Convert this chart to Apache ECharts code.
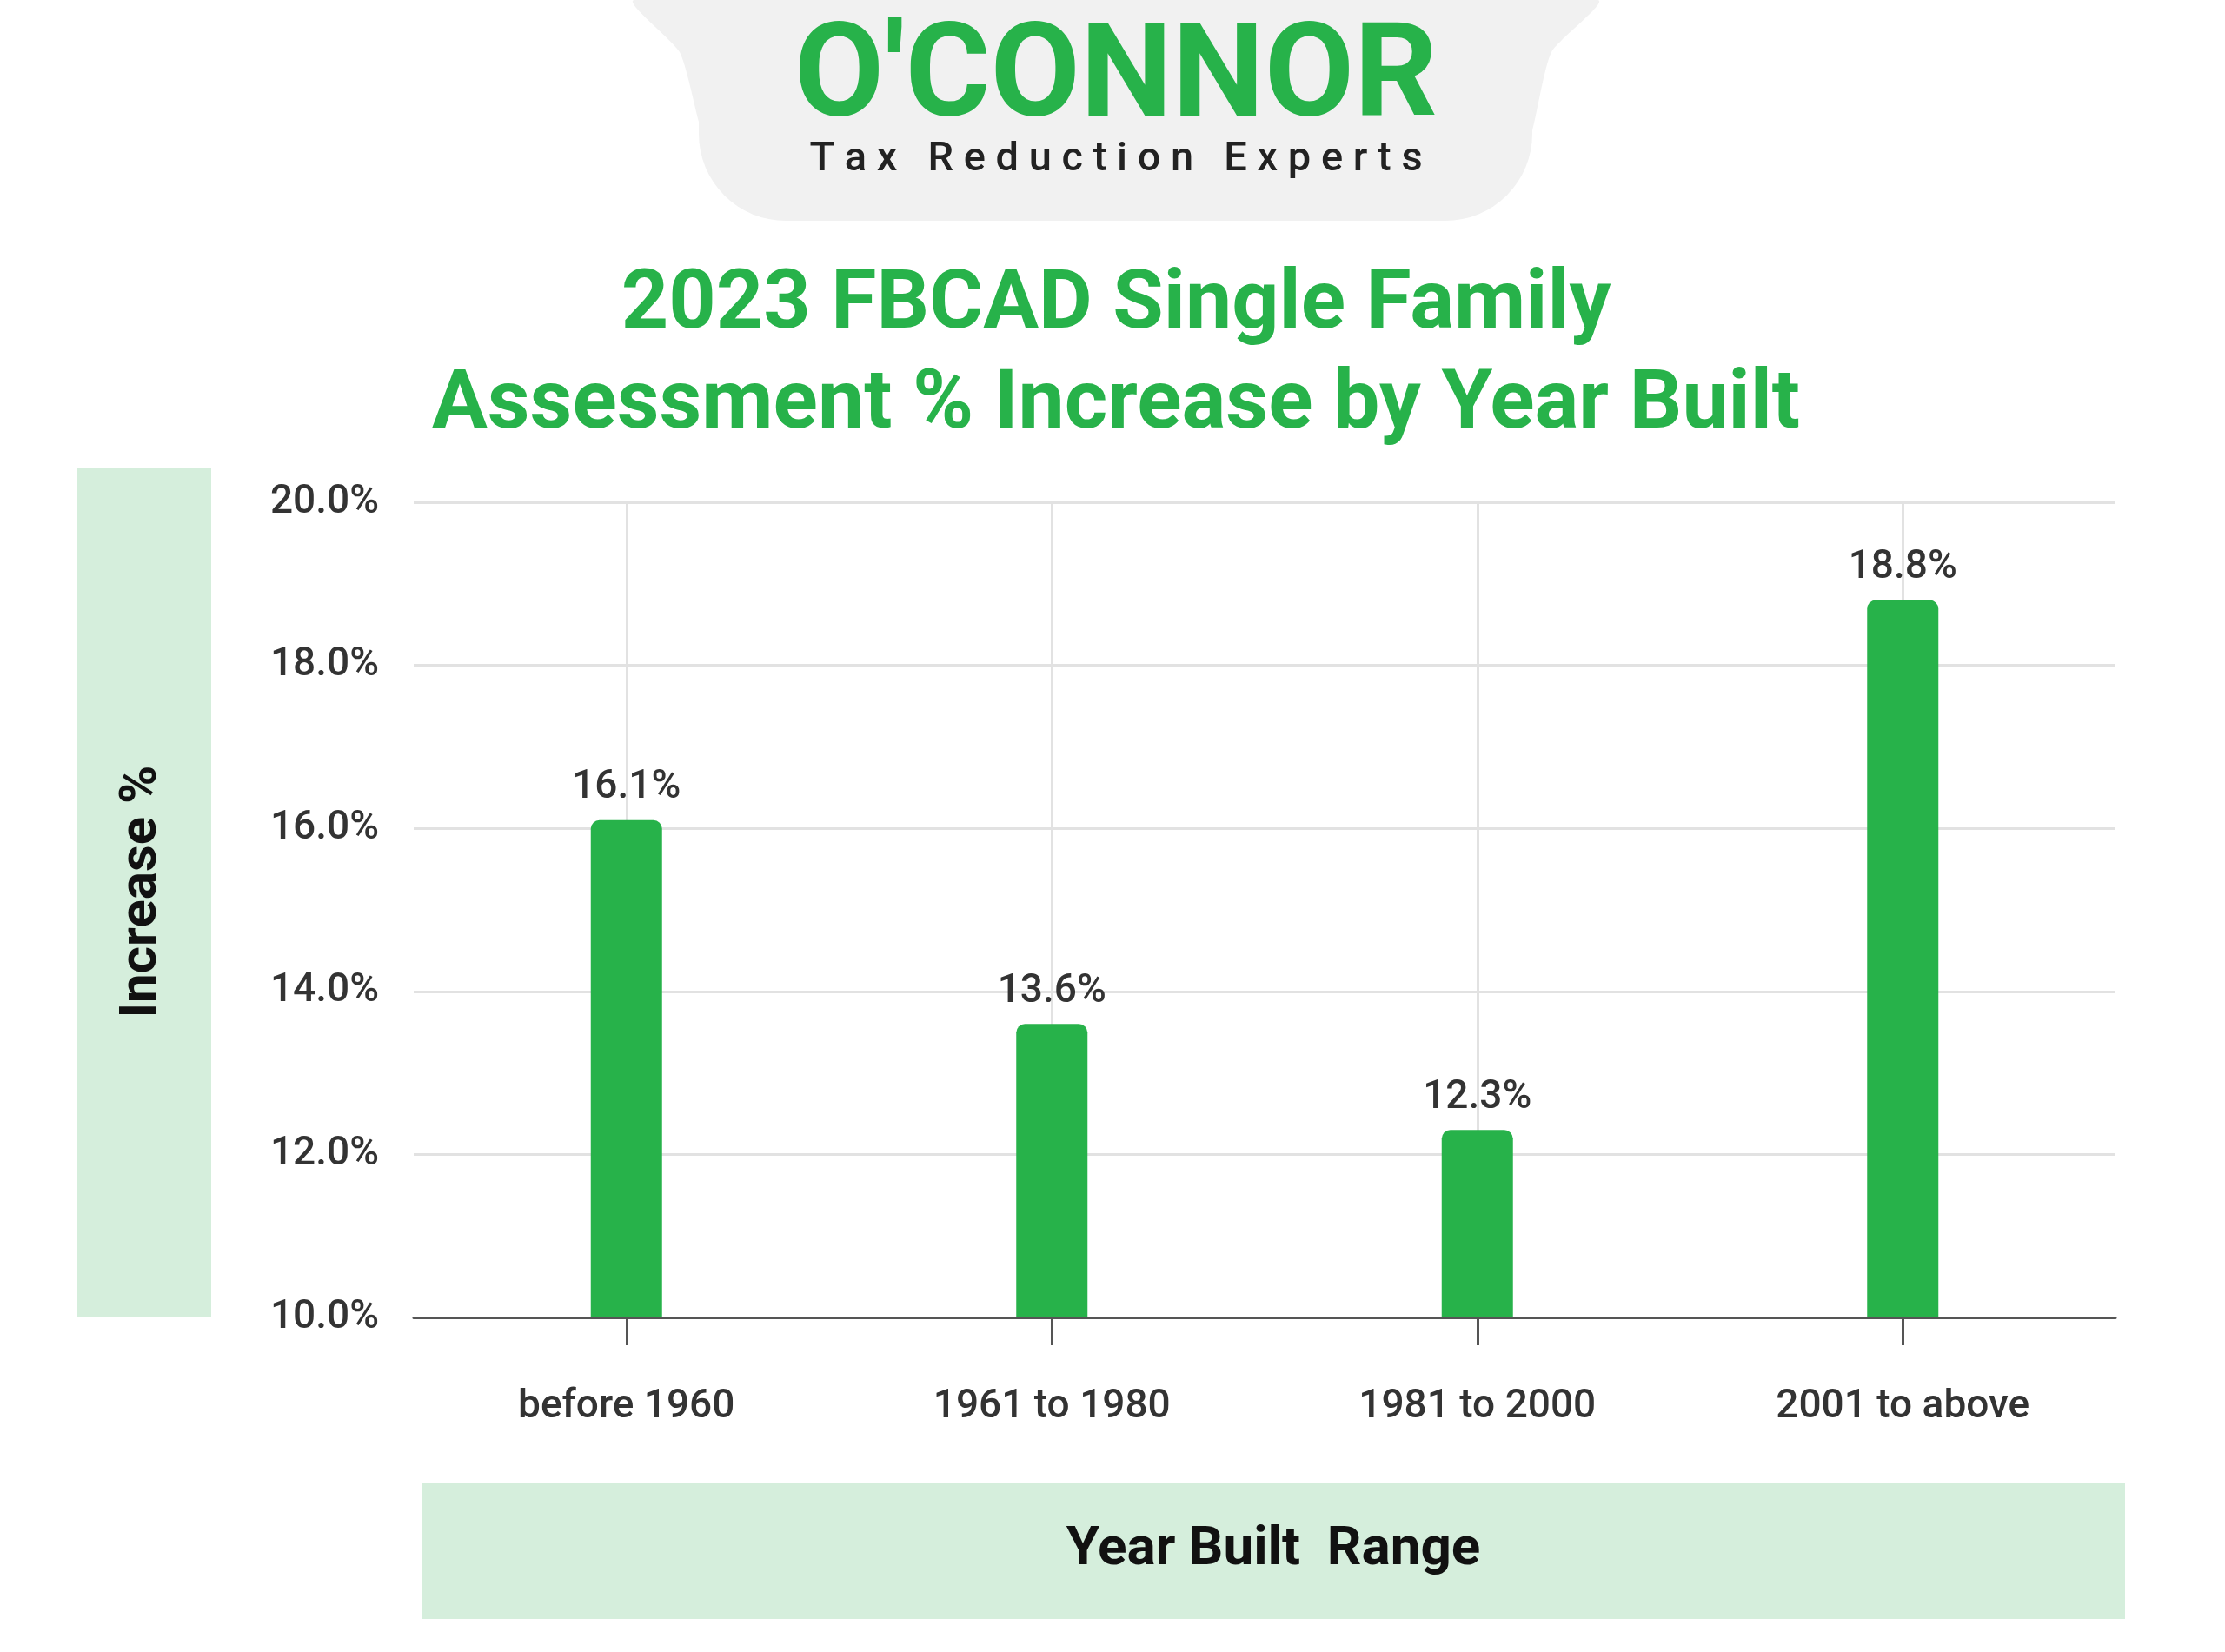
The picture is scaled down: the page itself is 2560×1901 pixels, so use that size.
<!DOCTYPE html>
<html><head><meta charset="utf-8">
<script src="https://cdn.jsdelivr.net/npm/echarts@6/dist/echarts.min.js"></script>
<style>html,body{margin:0;padding:0;background:#fff}#c{width:2560px;height:1901px}</style>
</head><body><div id="c"></div>
<script>
// data
let categories = ['before 1960', '1961 to 1980', '1981 to 2000', '2001 to above'];
let increases = [16.1, 13.6, 12.3, 18.8];
let green = '#27b24a';
let font = 'Roboto';

let chart = echarts.init(document.getElementById('c'));
let option = {
    backgroundColor: '#fff',
    animation: false,
    grid: { left: 476, right: 126, top: 578, bottom: 385 },
    graphic: [
        { type: 'polygon', shape: { points: [[730, 0], [1838, 0], [1785, 60], [1763, 150], [1745, 200], [822, 200], [804, 140], [782, 60]], smooth: 0.2 }, style: { fill: '#f1f1f1' } },
        { type: 'rect', shape: { x: 804, y: 0, width: 959, height: 254, r: [0, 0, 100, 100] }, style: { fill: '#f1f1f1' } },
        { type: 'text', x: 1284, y: 95, style: { text: "O'CONNOR", fill: green, font: 'bold 150px ' + font, align: 'center', verticalAlign: 'middle' } },
        { type: 'text', x: 1284, y: 184, style: { text: 'T a x   R e d u c t i o n   E x p e r t s', fill: '#222', font: '500 47px ' + font, align: 'center', verticalAlign: 'middle' } },
        { type: 'text', x: 1284, y: 353, style: { text: '2023 FBCAD Single Family', fill: green, font: 'bold 95px ' + font, align: 'center', verticalAlign: 'middle' } },
        { type: 'text', x: 1284, y: 468, style: { text: 'Assessment % Increase by Year Built', fill: green, font: 'bold 95px ' + font, align: 'center', verticalAlign: 'middle' } },
        { type: 'rect', shape: { x: 89, y: 538, width: 154, height: 978 }, style: { fill: '#d5eedc' } },
        { type: 'text', x: 164, y: 1026, rotation: Math.PI / 2, style: { text: 'Increase %', fill: '#111', font: 'bold 60px ' + font, align: 'center', verticalAlign: 'middle' } },
        { type: 'rect', shape: { x: 486, y: 1707, width: 1959, height: 156 }, style: { fill: '#d5eedc' } },
        { type: 'text', x: 1465, y: 1784, style: { text: 'Year Built  Range', fill: '#111', font: 'bold 62px ' + font, align: 'center', verticalAlign: 'middle' } }
    ],
    xAxis: {
        type: 'category',
        data: categories,
        axisLine: { lineStyle: { color: '#555', width: 3 } },
        axisTick: { show: true, alignWithLabel: true, length: 32, lineStyle: { color: '#555', width: 3 } },
        axisLabel: { color: '#333', fontFamily: font, fontSize: 46, fontWeight: 500, margin: 80 }
    },
    yAxis: {
        type: 'value', min: 10, max: 20, interval: 2,
        axisLabel: { formatter: v => v.toFixed(1) + '%', color: '#333', fontFamily: font, fontSize: 46, fontWeight: 500, margin: 40 },
        splitLine: { lineStyle: { color: '#e2e2e2', width: 3 } }
    },
    series: [{
        type: 'bar',
        data: increases,
        barWidth: 82,
        itemStyle: { color: green, borderRadius: [10, 10, 0, 0] },
        label: { show: true, position: 'top', formatter: p => p.value + '%', color: '#333', fontFamily: font, fontSize: 46, fontWeight: 500, distance: 14 },
        markLine: {
            silent: true, symbol: 'none', label: { show: false },
            lineStyle: { color: '#e2e2e2', width: 3, type: 'solid' },
            z: 0,
            data: categories.map(c => ({ xAxis: c }))
        }
    }]
};
chart.setOption(option);
</script></body></html>
